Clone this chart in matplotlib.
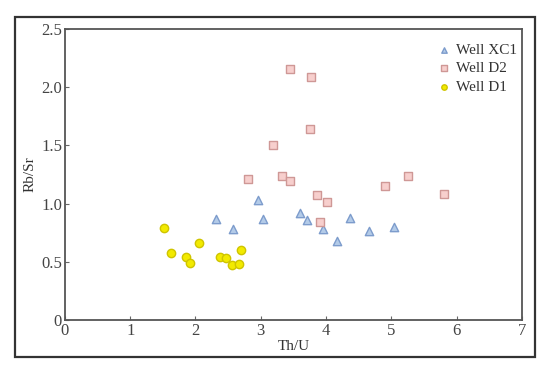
import matplotlib
matplotlib.use('Agg')
import matplotlib.pyplot as plt
from matplotlib.patches import Rectangle

plt.rcParams['font.family'] = ['Liberation Serif', 'DejaVu Serif']

# Well XC1
xc1_x = [2.31, 2.57, 2.95, 3.03, 3.60, 3.71, 3.96, 4.17, 4.36, 4.66, 5.04]
xc1_y = [0.87, 0.78, 1.03, 0.87, 0.92, 0.86, 0.78, 0.68, 0.88, 0.765, 0.80]
# Well D2
d2_x = [3.44, 3.77, 3.75, 3.19, 2.80, 3.32, 3.45, 3.86, 4.02, 3.90, 4.91, 5.25, 5.81]
d2_y = [2.16, 2.09, 1.64, 1.50, 1.21, 1.235, 1.195, 1.076, 1.01, 0.84, 1.15, 1.24, 1.08]
# Well D1
d1_x = [1.52, 1.62, 1.86, 1.92, 2.05, 2.38, 2.46, 2.56, 2.66, 2.69]
d1_y = [0.79, 0.58, 0.54, 0.49, 0.66, 0.54, 0.53, 0.47, 0.48, 0.60]

fig = plt.figure(figsize=(5.5, 3.68), dpi=100)
ax = fig.add_axes([0.118, 0.1304, 0.831, 0.7906])

ax.scatter(xc1_x, xc1_y, marker='^', s=36, facecolor='#b3cbe8', edgecolor='#7d9ccc',
           linewidth=1, label='Well XC1', zorder=3)
ax.scatter(d2_x, d2_y, marker='s', s=38, facecolor='#f7cfcd', edgecolor='#cf9896',
           linewidth=1, label='Well D2', zorder=3)
ax.scatter(d1_x, d1_y, marker='o', s=36, facecolor='#f2ea00', edgecolor='#cfc400',
           linewidth=1, label='Well D1', zorder=3)

ax.set_xlim(0, 7)
ax.set_ylim(0, 2.5)
ax.set_xticks(range(8))
ax.set_yticks([0, 0.5, 1.0, 1.5, 2.0, 2.5])
ax.set_yticklabels(['0', '0.5', '1.0', '1.5', '2.0', '2.5'])
ax.tick_params(direction='in', length=3, width=0.8, color='#666666',
               labelsize=12, labelcolor='#444444', pad=2)
ax.set_xlabel('Th/U', fontsize=11, color='#333333', labelpad=1)
ax.set_ylabel('Rb/Sr', fontsize=11, color='#333333', labelpad=3)
for sp in ax.spines.values():
    sp.set_color('#555555')
    sp.set_linewidth(1.3)

leg = ax.legend(loc='upper right', bbox_to_anchor=(0.989, 0.952), frameon=False,
                fontsize=11, markerscale=0.65, handletextpad=0.3, labelspacing=0.32,
                borderaxespad=0, borderpad=0, handlelength=1.0, labelcolor='#333333')

# outer frame around the whole figure
fig.patches.append(Rectangle((0.027, 0.030), 0.946, 0.925, transform=fig.transFigure,
                             fill=False, edgecolor='#333333', linewidth=1.6))

fig.savefig('out.png', dpi=100)
